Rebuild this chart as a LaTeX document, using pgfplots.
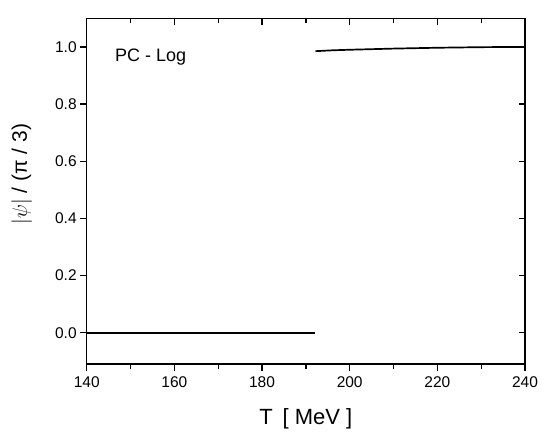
\documentclass[border=0pt]{standalone}
\usepackage{fontspec}
\setmainfont{Liberation Sans}
\usepackage{pgfplots}
\pgfplotsset{compat=1.18}

\begin{document}
\begin{tikzpicture}
\useasboundingbox (-86.7bp,-69.8bp) rectangle (463.3bp,364.2bp);
\pgfplotsset{
  frame/.style={
    scale only axis, width=438.3bp, height=345.9bp,
    xmin=140, xmax=240, ymin=-0.11, ymax=1.1,
    xtick={140,160,...,240}, minor xtick={150,170,...,230},
    ytick={0,0.2,...,1.0},
    axis line style={line width=1.5bp},
    major tick length=6.5bp, minor tick length=5bp,
    every tick/.style={line width=1.3bp, black},
  }
}
\begin{axis}[frame,
  tick align=outside, xtick pos=left, ytick pos=left,
  /pgf/number format/assume math mode=true,
  xticklabel style={font=\fontsize{15.5bp}{17bp}\selectfont, yshift=-2.5bp,
    /pgf/number format/.cd, fixed, precision=0},
  yticklabel style={font=\fontsize{15.5bp}{17bp}\selectfont,
    /pgf/number format/.cd, fixed, fixed zerofill, precision=1},
  xlabel={T\, [ MeV ]},
  xlabel style={at={(axis description cs:0.5,0)}, anchor=base, yshift=-60.4bp,
    font=\fontsize{22bp}{24bp}\selectfont},
  ylabel={$|\psi|$ / (π / 3)},
  ylabel style={at={(axis description cs:-0.1483,0.55)}, anchor=center,
    font=\fontsize{21bp}{23bp}\selectfont},
]
\addplot[black, line width=1.7bp] coordinates {(140,0) (192.2,0)};
\addplot[black, line width=1.7bp] coordinates {
  (192.2,0.985) (196,0.988) (200,0.990) (205,0.992) (210,0.994)
  (220,0.997) (230,0.999) (240,1.0)};
\node[anchor=base west, inner sep=0pt, font=\fontsize{18bp}{20bp}\selectfont]
  at (axis description cs:0.0646,0.8745) {PC - Log};
\end{axis}
\begin{axis}[frame,
  tick align=inside, xtick pos=right, ytick pos=right,
  xticklabels={}, yticklabels={},
]
\end{axis}
\end{tikzpicture}
\end{document}
